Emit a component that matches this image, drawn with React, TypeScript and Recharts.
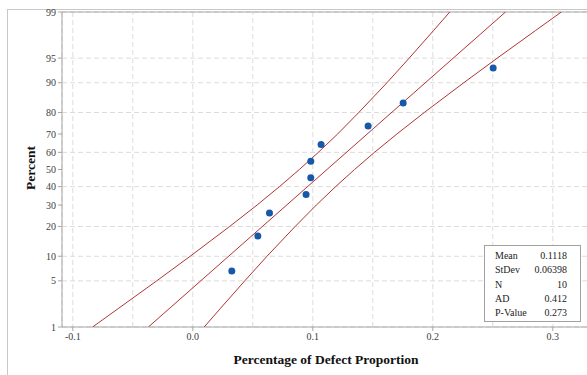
import {
  ScatterChart,
  Scatter,
  XAxis,
  YAxis,
  CartesianGrid,
  ReferenceLine,
} from "recharts";

// percent axis ticks (probability scale)
const pctTicks = [1, 5, 10, 20, 30, 40, 50, 60, 70, 80, 90, 95, 99];
const xTicks = [-0.1, 0, 0.1, 0.2, 0.3];
const xMinorGrid = [-0.05, 0.05, 0.15, 0.25];

// observed defect proportions and their plotted percents
const defectX = [0.0325, 0.0542, 0.0639, 0.0944, 0.0983, 0.0983, 0.1069, 0.1461, 0.1753, 0.2503];
const defectPct = [6.7, 16.3, 26.0, 35.6, 45.2, 54.8, 64.4, 74.0, 83.7, 93.3];

// fitted line and confidence bands
const fitPct = [1, 99];
const fitX = [-0.037, 0.2606];
const bandPct = [1, 2, 5, 10, 20, 30, 40, 50, 60, 70, 80, 90, 95, 98, 99];
const lowerBand = [-0.0835, -0.0621, -0.0301, -0.0022, 0.0307, 0.0536, 0.0722, 0.0888, 0.1046, 0.1207, 0.1383, 0.1618, 0.1803, 0.2007, 0.2141];
const upperBand = [0.0095, 0.0229, 0.0433, 0.0618, 0.0853, 0.103, 0.119, 0.1348, 0.1514, 0.1701, 0.1929, 0.2258, 0.2537, 0.2857, 0.3071];

const stats = [
  ["Mean", "0.1118"],
  ["StDev", "0.06398"],
  ["N", "10"],
  ["AD", "0.412"],
  ["P-Value", "0.273"],
];

// inverse standard normal (Acklam) - used for the probability axis
function probit(pct: number): number {
  const p = pct / 100;
  const a = [-39.69683028665376, 220.9460984245205, -275.9285104469687, 138.357751867269, -30.66479806614716, 2.506628274631];
  const b = [-54.47609879822406, 161.5858368580409, -155.6989798598866, 66.80131188771972, -13.28068155288572];
  const c = [-0.007784894002430293, -0.3223964580411365, -2.400758277161838, -2.549732539343734, 4.374664141464968, 2.938163982698783];
  const d = [0.007784695709041462, 0.3224671290700398, 2.445134137142996, 3.754408661907416];
  const pl = 0.02425;
  if (p < pl) {
    const q = Math.sqrt(-2 * Math.log(p));
    return (((((c[0] * q + c[1]) * q + c[2]) * q + c[3]) * q + c[4]) * q + c[5]) /
      ((((d[0] * q + d[1]) * q + d[2]) * q + d[3]) * q + 1);
  }
  if (p > 1 - pl) {
    const q = Math.sqrt(-2 * Math.log(1 - p));
    return -(((((c[0] * q + c[1]) * q + c[2]) * q + c[3]) * q + c[4]) * q + c[5]) /
      ((((d[0] * q + d[1]) * q + d[2]) * q + d[3]) * q + 1);
  }
  const q = p - 0.5;
  const r = q * q;
  return (((((a[0] * r + a[1]) * r + a[2]) * r + a[3]) * r + a[4]) * r + a[5]) * q /
    (((((b[0] * r + b[1]) * r + b[2]) * r + b[3]) * r + b[4]) * r + 1);
}

const zTicks = pctTicks.map(probit);
const zMin = probit(1);
const zMax = probit(99);

const points = defectX.map((x, i) => ({ x, z: probit(defectPct[i]) }));
const fitLine = fitX.map((x, i) => ({ x, z: probit(fitPct[i]) }));
const lowerLine = lowerBand.map((x, i) => ({ x, z: probit(bandPct[i]) }));
const upperLine = upperBand.map((x, i) => ({ x, z: probit(bandPct[i]) }));

function pctLabel(z: number): string {
  let best = 0;
  zTicks.forEach((t, i) => {
    if (Math.abs(t - z) < Math.abs(zTicks[best] - z)) best = i;
  });
  return String(pctTicks[best]);
}

const serif = "'Liberation Serif', 'Times New Roman', serif";
const gridColor = "#dcdcdc";
const axisColor = "#a6a6a6";
const lineColor = "#b03535";

const noDot = () => <g />;

export default function App() {
  return (
    <div
      style={{
        position: "absolute",
        left: 0,
        top: 0,
        width: 587,
        height: 375,
        overflow: "hidden",
        background: "#fff",
      }}
    >
      <div
        style={{
          position: "absolute",
          left: 7,
          top: 9,
          width: 600,
          height: 400,
          borderLeft: "1px solid #c8c8c8",
          borderTop: "1px solid #c8c8c8",
        }}
      />
      <div style={{ position: "absolute", left: 0, top: 0 }}>
        <ScatterChart
          width={590}
          height={375}
          margin={{ top: 12, right: 0, bottom: 18, left: 8 }}
        >
          <CartesianGrid stroke={gridColor} strokeDasharray="5 3" />
          {xMinorGrid.map((v) => (
            <ReferenceLine key={v} x={v} stroke={gridColor} strokeDasharray="5 3" />
          ))}
          <ReferenceLine y={zMax} stroke={axisColor} />
          <XAxis
            type="number"
            dataKey="x"
            domain={[-0.109, 0.331]}
            ticks={xTicks}
            tickFormatter={(v: number) => v.toFixed(1)}
            height={30}
            tickSize={4}
            tick={{ fontSize: 10, fontFamily: serif, fill: "#404040" }}
            stroke={axisColor}
            allowDataOverflow
            label={{
              value: "Percentage of Defect Proportion",
              position: "bottom",
              offset: -3,
              style: { fontSize: 13.5, fontFamily: serif, fontWeight: "bold", fill: "#111" },
            }}
          />
          <YAxis
            type="number"
            dataKey="z"
            domain={[zMin, zMax]}
            ticks={zTicks}
            tickFormatter={pctLabel}
            width={54}
            tickSize={4}
            tick={{ fontSize: 10, fontFamily: serif, fill: "#404040" }}
            stroke={axisColor}
            allowDataOverflow
          />
          <Scatter data={lowerLine} line={{ stroke: lineColor, strokeWidth: 1 }} shape={noDot} isAnimationActive={false} />
          <Scatter data={upperLine} line={{ stroke: lineColor, strokeWidth: 1 }} shape={noDot} isAnimationActive={false} />
          <Scatter data={fitLine} line={{ stroke: lineColor, strokeWidth: 1 }} shape={noDot} isAnimationActive={false} />
          <Scatter
            data={points}
            isAnimationActive={false}
            shape={(p: any) => <circle cx={p.cx} cy={p.cy} r={3.5} fill="#1659a8" />}
          />
        </ScatterChart>
      </div>
      <div
        style={{
          position: "absolute",
          left: 31,
          top: 168,
          transform: "translate(-50%, -50%) rotate(-90deg)",
          fontFamily: serif,
          fontWeight: "bold",
          fontSize: 13.5,
          color: "#111",
          whiteSpace: "nowrap",
        }}
      >
        Percent
      </div>
      <div
        style={{
          position: "absolute",
          left: 484,
          top: 245,
          width: 97,
          height: 77,
          border: "1px solid #a0a0a0",
          background: "#fff",
          fontFamily: serif,
          fontSize: 10,
          color: "#222",
          boxSizing: "border-box",
          padding: "3px 13px 0 10px",
        }}
      >
        {stats.map(([k, v]) => (
          <div
            key={k}
            style={{ display: "flex", justifyContent: "space-between", height: 14.3, lineHeight: "14.3px" }}
          >
            <span>{k}</span>
            <span>{v}</span>
          </div>
        ))}
      </div>
    </div>
  );
}
